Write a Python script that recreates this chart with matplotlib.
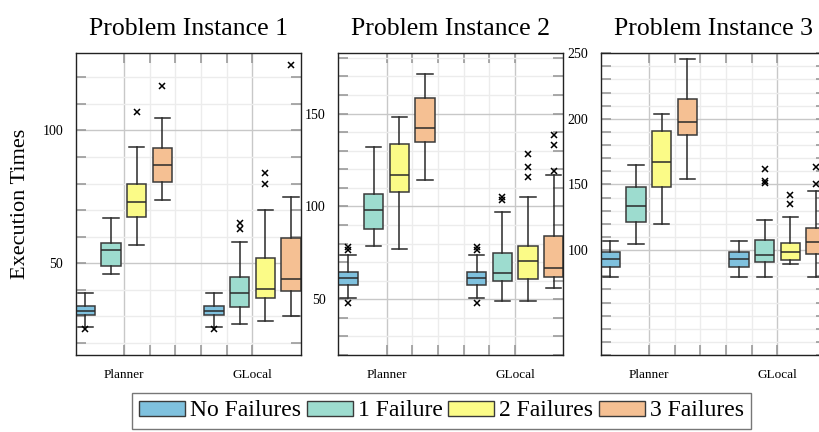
import numpy as np
import matplotlib
matplotlib.use('Agg')
import matplotlib.pyplot as plt
from matplotlib.patches import Patch

plt.rcParams['font.family'] = ['Liberation Serif', 'DejaVu Serif']

methods = ['Planner', 'GLocal']
labels = ['No Failures', '1 Failure', '2 Failures', '3 Failures']
colors = ['#7fc1de', '#9ddccf', '#fbfb87', '#f5c093']
titles = ['Problem Instance 1', 'Problem Instance 2', 'Problem Instance 3']

# order: Planner 0,1,2,3 failures then GLocal 0,1,2,3 failures
inst1_lo = [26.2, 46.0, 57.0, 73.9, 26.2, 27.1, 28.1, 30.1]
inst1_q1 = [30.5, 48.9, 67.4, 80.5, 30.5, 33.6, 37.1, 39.6]
inst1_med = [32.1, 55.0, 72.9, 86.8, 32.1, 39.0, 40.2, 44.0]
inst1_q3 = [34.1, 57.5, 79.8, 93.2, 34.1, 45.0, 51.9, 59.4]
inst1_hi = [39.0, 66.9, 93.9, 104.8, 39.0, 57.9, 69.9, 74.9]
inst1_fliers = [[25.2], [], [106.9], [116.8], [25.2], [65.3, 62.9], [83.8, 79.8], [124.7]]

inst2_lo = [50.9, 78.9, 77.0, 114.1, 50.9, 48.9, 48.9, 56.1]
inst2_q1 = [57.9, 88.1, 107.6, 134.7, 57.9, 59.9, 61.0, 61.9]
inst2_med = [61.2, 98.0, 117.1, 142.1, 61.2, 64.0, 70.8, 67.0]
inst2_q3 = [64.5, 106.6, 133.5, 158.2, 64.5, 74.8, 78.8, 83.9]
inst2_hi = [74.0, 132.2, 148.3, 171.3, 74.0, 97.2, 105.0, 117.1]
inst2_fliers = [[78.3, 76.6, 47.8], [], [], [], [78.3, 76.6, 47.8],
                [105.3, 103.3], [128.0, 121.1, 116.1], [138.3, 133.2, 119.1]]

inst3_lo = [79.2, 104.7, 120.0, 154.0, 79.2, 79.2, 89.1, 79.2]
inst3_q1 = [87.2, 121.0, 148.0, 187.4, 87.2, 90.5, 92.6, 96.7]
inst3_med = [93.2, 133.2, 167.2, 197.9, 93.2, 96.1, 98.4, 106.0]
inst3_q3 = [98.6, 148.4, 190.7, 214.8, 98.6, 107.4, 105.6, 116.5]
inst3_hi = [107.0, 164.9, 203.9, 245.9, 107.0, 122.9, 124.9, 145.1]
inst3_fliers = [[], [], [], [], [], [162.0, 152.3, 151.3], [142.0, 135.0], [163.3, 150.3]]

inst_stats = [
    (inst1_lo, inst1_q1, inst1_med, inst1_q3, inst1_hi, inst1_fliers),
    (inst2_lo, inst2_q1, inst2_med, inst2_q3, inst2_hi, inst2_fliers),
    (inst3_lo, inst3_q1, inst3_med, inst3_q3, inst3_hi, inst3_fliers),
]
ylims = [(15.5, 129.2), (32.3, 182.8), (63.5, 250.4)]
yticks = [[50, 100], [50, 100, 150], [100, 150, 200, 250]]

fig = plt.figure(figsize=(8.2, 4.32), dpi=100)
W, H = 820, 432
lefts = [75.7, 338.3, 600.7]
ax_w = 225
ax_top, ax_bot = 52.7, 355

offsets = [-1.5, -0.5, 0.5, 1.5]
positions = [g * 5 + o for g in range(2) for o in offsets]

for k in range(3):
    ax = fig.add_axes([lefts[k] / W, 1 - ax_bot / H, ax_w / W, (ax_bot - ax_top) / H])
    lo, q1, med, q3, hi, fl = inst_stats[k]
    stats = []
    for i in range(8):
        stats.append(dict(whislo=lo[i], q1=q1[i], med=med[i], q3=q3[i],
                          whishi=hi[i], fliers=fl[i]))
    bp = ax.bxp(stats, positions=positions, widths=0.75, capwidths=0.6,
                patch_artist=True, showfliers=True,
                boxprops=dict(edgecolor='#3a3a3a', linewidth=1.1),
                medianprops=dict(color='#2a2a2a', linewidth=1.1),
                whiskerprops=dict(color='#2a2a2a', linewidth=1.1),
                capprops=dict(color='#2a2a2a', linewidth=1.1),
                flierprops=dict(marker='x', markersize=4.8, markeredgecolor='black',
                                markeredgewidth=1.1, linestyle='none'))
    for i, b in enumerate(bp['boxes']):
        b.set_facecolor(colors[i % 4])
    ax.set_xlim(-1.875, 6.875)
    ax.set_ylim(*ylims[k])
    ax.set_xticks([0, 5])
    ax.set_xticklabels(methods, fontsize=9.5)
    ax.set_xticks([1, 2, 3, 4], minor=True)
    ax.set_yticks(yticks[k])
    ax.set_yticks(np.arange(20, ylims[k][1], 10), minor=True)
    ax.tick_params(axis='y', labelsize=10)
    ax.tick_params(which='both', direction='in', top=True, right=True,
                   color='#9a9a9a', length=7, width=1.2)
    ax.tick_params(axis='x', pad=10)
    ax.tick_params(axis='y', pad=9)
    ax.grid(True, which='major', color='#c8c8c8', linewidth=1.0)
    ax.grid(True, which='minor', color='#ececec', linewidth=1.0)
    ax.set_axisbelow(True)
    for s in ax.spines.values():
        s.set_color('#222222')
        s.set_linewidth(1.0)
    ax.set_title(titles[k], fontsize=18.5, pad=13)
    if k == 0:
        ax.set_ylabel('Execution Times', fontsize=16, labelpad=9)

handles = [Patch(facecolor=c, edgecolor='#3a3a3a', linewidth=1.0) for c in colors]
fig.legend(handles, labels, loc='center', bbox_to_anchor=(441.5 / W, 1 - 411 / H),
           ncol=4, fontsize=17, frameon=True, fancybox=False, edgecolor='#555555',
           handlelength=1.95, handleheight=0.6, handletextpad=0.2, columnspacing=0.25,
           borderpad=0.3, borderaxespad=0)

fig.savefig('out.png', dpi=100)
